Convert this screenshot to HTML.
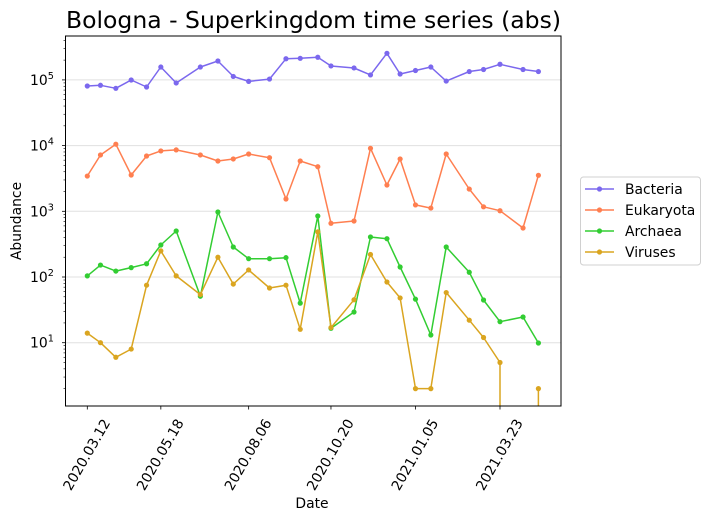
<!DOCTYPE html>
<html><head><meta charset="utf-8"><style>
html,body{margin:0;padding:0;background:#fff;width:711px;height:521px;overflow:hidden;}
svg{display:block;font-family:"DejaVu Sans","Liberation Sans",sans-serif;}
</style></head><body>
<svg id="chart" width="711" height="521" viewBox="0 0 711 521">
<defs><clipPath id="plotclip"><rect x="65.5" y="36" width="495.5" height="370"/></clipPath></defs>
<text x="66" y="28" font-size="23.5" fill="#000">Bologna - Superkingdom time series (abs)</text>
<g id="grid"></g>
<g id="series" clip-path="url(#plotclip)"></g>
<rect x="65.5" y="36" width="495.5" height="370" fill="none" stroke="#000" stroke-width="1"/>
<g id="axes"></g>
<text x="312" y="508" font-size="13.9" text-anchor="middle">Date</text>
<text transform="translate(21,221) rotate(-90)" font-size="13.9" text-anchor="middle">Abundance</text>
<g id="legend"></g>
</svg>
<script>
// days since 2020-03-12
const days = [0,12,26,40,54,67,81,103,119,133,147,166,181,194,210,222,243,258,273,285,299,313,327,348,361,376,397,411];
const bacteria = [80800,82800,74500,99600,78000,157000,89800,157000,194000,113000,95000,103000,210000,213000,221000,163000,152000,119000,254000,123000,139000,157000,96000,134000,144000,173000,144000,134000];
const eukaryota = [3440,7200,10500,3570,6950,8300,8600,7200,5830,6260,7450,6550,1540,5830,4770,657,712,9100,2510,6260,1250,1120,7450,2180,1170,1020,557,3530];
const archaea = [104,152,123,139,159,307,501,51,975,286,190,190,197,40,848,16.6,29.3,406,383,142,46,13.1,286,118,44.7,20.9,24.6,9.9];
const viruses = [14,10,6,8,75,250,104,54,200,78,128,68,75,16,486,17,45,220,84,48,2,2,58,22,12,5,0,2];
const tickDays = [0,67,147,222,299,376];
const tickLabels = ["2020.03.12","2020.05.18","2020.08.06","2020.10.20","2021.01.05","2021.03.23"];
const yDecades = [1,2,3,4,5];
const seriesNames = ["Bacteria","Eukaryota","Archaea","Viruses"];
const seriesColors = ["#7b68ee","#ff7f50","#32cd32","#daa520"];
const seriesData = [bacteria,eukaryota,archaea,viruses];

const NS="http://www.w3.org/2000/svg";
const BOTTOM=415;
function xs(d){return 87.3+d*1.0976;}
function ys(v){ if(v<=0) return BOTTOM; return 408.4-Math.log10(v)*65.7;}
function mk(tag,attrs,parent){const e=document.createElementNS(NS,tag);for(const k in attrs)e.setAttribute(k,attrs[k]);parent.appendChild(e);return e;}
const grid=document.getElementById('grid'),axes=document.getElementById('axes'),ser=document.getElementById('series'),leg=document.getElementById('legend');

yDecades.forEach(p=>{
  const y=ys(Math.pow(10,p));
  const g=mk('line',{x1:65.5,x2:561,y1:y,y2:y,stroke:'#e0e0e0','stroke-width':1},grid);
  
  
  const t=mk('line',{x1:62,x2:65.5,y1:y,y2:y,stroke:'#000','stroke-width':0.8},axes);
  
  
  const tx=mk('text',{x:30,y:y+5,'font-size':13.9},axes);
  
  
  tx.textContent='10';
  const sp=mk('tspan',{dy:-6,'font-size':9.7},tx);sp.textContent=String(p);
});
for(let p=0;p<=5;p++){for(let m=2;m<=9;m++){const y=ys(m*Math.pow(10,p));if(y<36||y>406)continue;
  const t=mk('line',{x1:63.5,x2:65.5,y1:y,y2:y,stroke:'#000','stroke-width':0.6},axes);
  
  }}
tickDays.forEach((d,i)=>{
  const x=xs(d);
  const t=mk('line',{x1:x,x2:x,y1:406,y2:409.5,stroke:'#000','stroke-width':0.8},axes);
  
  
  const tx=mk('text',{transform:`translate(${x},455) rotate(-60)`,'font-size':13.9,'text-anchor':'middle','dominant-baseline':'central'},axes);
  
  
  tx.textContent=tickLabels[i];
});
seriesData.forEach((arr,si)=>{
  let d='';let started=false;
  arr.forEach((v,i)=>{
    const x=xs(days[i]).toFixed(1);
    if(v<=0){
      if(started){ const px=xs(days[i-1]).toFixed(1); d+=` L${px},${BOTTOM}`; }
      started=false;
      return;
    }
    const y=ys(v).toFixed(1);
    if(!started){
      if(i>0 && arr[i-1]<=0) d+=` M${x},${BOTTOM} L${x},${y}`;
      else d+=` M${x},${y}`;
      started=true;
    } else d+=` L${x},${y}`;
  });
  const pl=mk('path',{d:d.trim(),fill:'none',stroke:seriesColors[si],'stroke-width':1.5,'stroke-linejoin':'round'},ser);
  
  
  arr.forEach((v,i)=>{ if(v<=0) return;
    const c=mk('circle',{cx:xs(days[i]),cy:ys(v),r:2.6,fill:seriesColors[si]},ser);
    
    
  });
});
const lb=mk('rect',{x:580.5,y:177,width:120,height:88,rx:3,fill:'#fff',stroke:'#d0d0d0','stroke-width':1},leg);


seriesNames.forEach((n,i)=>{
  const y=189+i*21;
  const g=mk('g',{},leg);
  
  
  mk('line',{x1:585,x2:614,y1:y,y2:y,stroke:seriesColors[i],'stroke-width':1.5},g);
  mk('circle',{cx:599.5,cy:y,r:2.6,fill:seriesColors[i]},g);
  const t=mk('text',{x:625,y:y+5,'font-size':13.9},g);t.textContent=n;
});
</script>
</body></html>
